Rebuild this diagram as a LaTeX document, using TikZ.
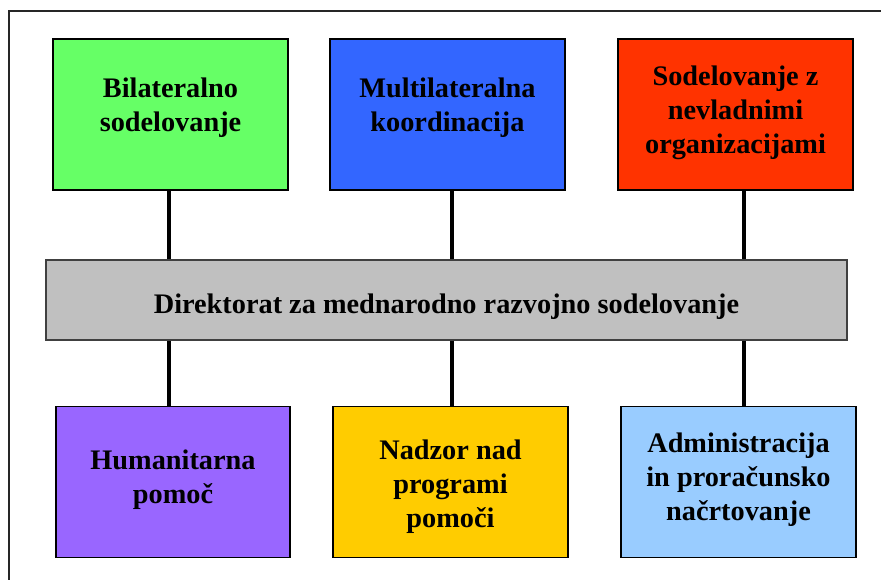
\documentclass[tikz,border=0pt]{standalone}
\usepackage{fontspec}
\setmainfont{Liberation Serif}
\definecolor{zelena}{HTML}{66FF66}
\definecolor{modra}{HTML}{3366FF}
\definecolor{rdeca}{HTML}{FF3300}
\definecolor{siva}{HTML}{C0C0C0}
\definecolor{vijolicna}{HTML}{9966FF}
\definecolor{rumena}{HTML}{FFCC00}
\definecolor{svetlomodra}{HTML}{99CCFF}
\tikzset{
  enota/.style={draw=black, line width=1.5pt, rectangle, minimum width=235pt, minimum height=151pt, inner sep=0pt},
  napis/.style={align=center, font=\fontsize{28.3}{34}\selectfont\bfseries, inner sep=0pt},
  povezava/.style={line width=4pt, black}
}
\begin{document}
\begin{tikzpicture}[x=1pt, y=-1pt]
                    \useasboundingbox (0,0) rectangle (881,579);
                    \clip (0,0) rectangle (881,579);
                    % okvir
                    \draw[line width=2pt, black!85] (9,11) rectangle (895,595);

                    % zgornja vrsta
                    \node[enota, fill=zelena, label={[napis, yshift=6.5pt]center:{Bilateralno\\sodelovanje}}] (bilat) at (170.5,114.5) {};
                    \node[enota, fill=modra, label={[napis, yshift=6.5pt]center:{Multilateralna\\koordinacija}}] (multi) at (447.5,114.5) {};
                    \node[enota, fill=rdeca, label={[napis, yshift=2pt]center:{Sodelovanje z\\nevladnimi\\organizacijami}}] (nvo) at (735.5,114.5) {};

                    % direktorat
                    \node[enota, fill=siva, draw=black!75, minimum width=801pt, minimum height=80pt,
                      label={[napis, yshift=-7pt]center:{Direktorat za mednarodno razvojno sodelovanje}}] (dir) at (446.5,300) {};

                    % spodnja vrsta
                    \node[enota, fill=vijolicna, minimum width=234pt, label={[napis, yshift=2pt]center:{Humanitarna\\pomoč}}] (human) at (173,482) {};
                    \node[enota, fill=rumena, label={[napis, yshift=-5pt]center:{Nadzor nad\\programi\\pomoči}}] (nadzor) at (450.5,482) {};
                    \node[enota, fill=svetlomodra, label={[napis, yshift=2pt]center:{Administracija\\in proračunsko\\načrtovanje}}] (admin) at (738.5,482) {};

                    % povezave zgoraj
                    \draw[povezava] ([xshift=-1.5pt]bilat.south) -- ([xshift=-1.5pt]bilat.south |- dir.north);
                    \draw[povezava] ([xshift=4.5pt]multi.south) -- ([xshift=4.5pt]multi.south |- dir.north);
                    \draw[povezava] ([xshift=8.5pt]nvo.south) -- ([xshift=8.5pt]nvo.south |- dir.north);

                    % povezave spodaj
                    \draw[povezava] ([xshift=-4pt]human.north |- dir.south) -- ([xshift=-4pt]human.north);
                    \draw[povezava] ([xshift=1.5pt]nadzor.north |- dir.south) -- ([xshift=1.5pt]nadzor.north);
                    \draw[povezava] ([xshift=5.5pt]admin.north |- dir.south) -- ([xshift=5.5pt]admin.north);
\end{tikzpicture}
\end{document}
